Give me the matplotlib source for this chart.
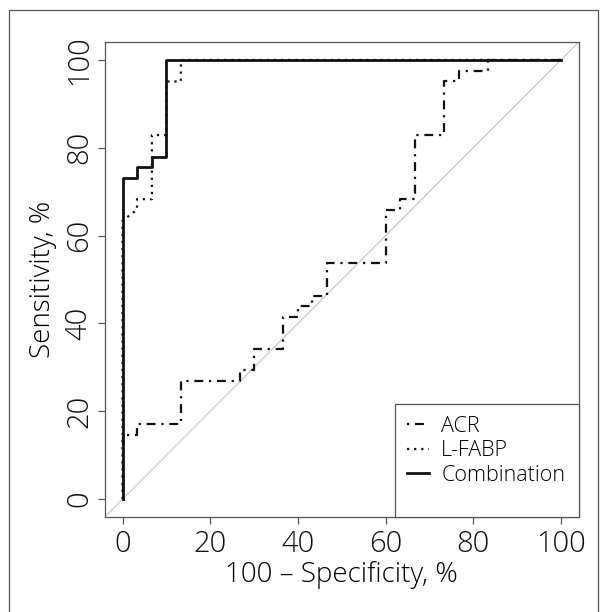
"""ROC curves: ACR, L-FABP and their combination (R-style base plot)."""

import matplotlib
matplotlib.use("Agg")
import matplotlib.pyplot as plt
from matplotlib.patches import Rectangle

plt.rcParams.update({
    "font.family": ["Open Sans", "DejaVu Sans"],
    "font.weight": "light",
    "axes.labelweight": "light",
    "font.size": 20,
    "axes.labelsize": 20,
    "xtick.labelsize": 21,
    "ytick.labelsize": 21,
    "axes.linewidth": 0.9,
    "axes.edgecolor": "#555555",
    "xtick.color": "#555555",
    "ytick.color": "#555555",
    "xtick.labelcolor": "#111111",
    "ytick.labelcolor": "#111111",
    "xtick.major.size": 5,
    "ytick.major.size": 5,
    "xtick.major.width": 0.9,
    "ytick.major.width": 0.9,
})

# ── Data, in % ─────────────────────────────────────────────────────────
acr_fpr = [0, 0, 3.3, 3.3, 13.3, 13.3, 26.7, 26.7, 30, 30, 36.7, 36.7,
           40, 40, 43.3, 43.3, 46.7, 46.7, 60, 60, 63.3, 63.3, 66.7, 66.7,
           73.3, 73.3, 76.7, 76.7, 83.3, 83.3, 100]
acr_tpr = [0, 14.6, 14.6, 17.1, 17.1, 26.8, 26.8, 29.3, 29.3, 34.1, 34.1,
           41.5, 41.5, 43.9, 43.9, 46.3, 46.3, 53.7, 53.7, 65.9, 65.9, 68.3,
           68.3, 82.9, 82.9, 95.1, 95.1, 97.6, 97.6, 100, 100]

lfabp_fpr = [0, 0, 3.3, 3.3, 6.7, 6.7, 10, 10, 13.3, 13.3, 100]
lfabp_tpr = [0, 63.4, 65.9, 68.3, 68.3, 82.9, 82.9, 95.1, 95.1, 100, 100]

comb_fpr = [0, 0, 3.3, 3.3, 6.7, 6.7, 10, 10, 100]
comb_tpr = [0, 73.2, 73.2, 75.6, 75.6, 78.0, 78.0, 100, 100]

ticks = [0, 20, 40, 60, 80, 100]
labels = ["ACR", "L-FABP", "Combination"]

W, H = 607, 612
fig = plt.figure(figsize=(W / 100, H / 100), dpi=100)
ax = fig.add_axes([105 / W, 1 - 516.7 / H, 473.5 / W, 474.3 / H])

# reference diagonal
ax.axline((0, 0), slope=1, color="#c4c4c4", lw=0.8, zorder=1)

l_acr, = ax.plot(acr_fpr, acr_tpr, color="#111111", lw=1.6,
                 dashes=(1, 2.6, 4, 2.6), zorder=3)
l_lfabp, = ax.plot(lfabp_fpr, lfabp_tpr, color="#111111", lw=1.6,
                   dashes=(1, 2.2), zorder=3)
l_comb, = ax.plot(comb_fpr, comb_tpr, color="#111111", lw=2.0, zorder=4)

ax.set_xlim(-4, 104)
ax.set_ylim(-4, 104)
ax.set_xticks(ticks)
ax.set_yticks(ticks)
ax.set_xticklabels([str(t) for t in ticks])
ax.set_yticklabels([str(t) for t in ticks], rotation=90, va="center")
ax.tick_params(axis="x", pad=4)
ax.tick_params(axis="y", pad=3)

ax.set_xlabel("100 \u2013 Specificity, %", labelpad=2)
ax.set_ylabel("Sensitivity, %", labelpad=5)

# legend box (R-style, flush with bottom-right corner)
bx0 = (395 - 105) / 473.5
by1 = (516.7 - 404) / 474.3
ax.add_patch(Rectangle((bx0, 0), 1 - bx0, by1, transform=ax.transAxes,
                       facecolor="white", edgecolor="#555555", lw=0.9,
                       zorder=5, clip_on=False))
ax.legend([l_acr, l_lfabp, l_comb], labels, loc="upper left",
          bbox_to_anchor=(bx0, (516.7 - 404) / 474.3), frameon=False,
          fontsize=15.5, borderaxespad=0, borderpad=0.55,
          handlelength=1.05, handletextpad=0.55, labelspacing=0.16)
ax.get_legend().set_zorder(6)

# outer figure frame
fig.add_artist(Rectangle((8.5 / W, -0.05), (598 - 8.5) / W,
                         1 - 10 / H + 0.05, transform=fig.transFigure,
                         fill=False, edgecolor="#555555", lw=0.9))

fig.savefig("out.png", dpi=100)
